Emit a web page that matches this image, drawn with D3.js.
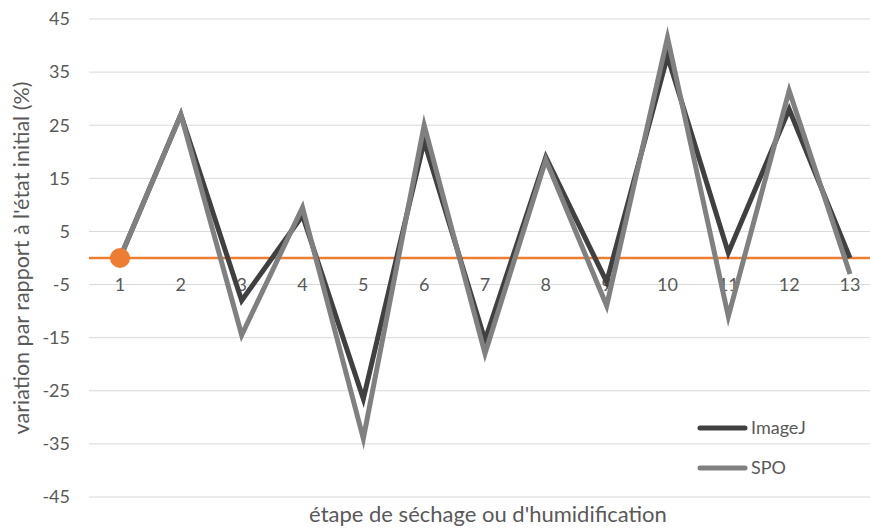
<!DOCTYPE html>
<html><head><meta charset="utf-8">
<script src="https://cdn.jsdelivr.net/npm/d3@7"></script>
<style>body{margin:0;background:#fff}svg{display:block}text{font-family:Lato,"Open Sans",sans-serif;fill:#595959}</style>
</head><body><svg id="c" width="870" height="530"></svg>
<script>
const categories = ["1","2","3","4","5","6","7","8","9","10","11","12","13"];
const imageJ = [0, 27, -8, 8, -26.5, 22, -15.5, 19, -4.5, 38, 1, 28, 0];
const spo = [0, 27, -14.5, 9.5, -34, 25, -18, 18.5, -9, 41.5, -11, 31.5, -3];
const yTicks = [45, 35, 25, 15, 5, -5, -15, -25, -35, -45];
const seriesNames = ["ImageJ", "SPO"];

const svg = d3.select("#c");
const W = 870, H = 530;
const x = d3.scaleBand().domain(categories).range([89.6, 880.4]);
const y = d3.scaleLinear().domain([-45, 45]).range([497, 19]);

// gridlines
svg.append("g").selectAll("line").data(yTicks).join("line")
  .attr("x1", 89).attr("x2", W).attr("y1", d => y(d)).attr("y2", d => y(d))
  .attr("stroke", "#d9d9d9").attr("stroke-width", 1);

// y labels
svg.append("g").selectAll("text").data(yTicks).join("text")
  .attr("x", 70).attr("y", d => y(d)).attr("dy", "0.35em")
  .attr("text-anchor", "end").attr("font-size", 18).text(d => d);

// x labels
svg.append("g").selectAll("text").data(categories).join("text")
  .attr("x", d => x(d) + x.bandwidth() / 2).attr("y", y(-5)).attr("dy", "0.35em")
  .attr("text-anchor", "middle").attr("font-size", 18).text(d => d);

// zero line (orange)
svg.append("line").attr("x1", 89).attr("x2", W).attr("y1", y(0)).attr("y2", y(0))
  .attr("stroke", "#ED7D31").attr("stroke-width", 2.5);

const line = d3.line().x((d, i) => x(categories[i]) + x.bandwidth() / 2).y(d => y(d));
const colors = ["#404040", "#808080"];
[imageJ, spo].forEach((s, k) => {
  svg.append("path").attr("d", line(s)).attr("fill", "none")
    .attr("stroke", colors[k]).attr("stroke-width", 5).attr("stroke-linejoin", "miter").attr("stroke-miterlimit", 10);
});

// orange marker
svg.append("circle").attr("cx", x(categories[0]) + x.bandwidth() / 2).attr("cy", y(0)).attr("r", 10).attr("fill", "#ED7D31");

// legend
const lg = svg.append("g");
seriesNames.forEach((n, k) => {
  const ly = k === 0 ? 428 : 468;
  lg.append("line").attr("x1", 700).attr("x2", 745).attr("y1", ly).attr("y2", ly)
    .attr("stroke", colors[k]).attr("stroke-width", 5).attr("stroke-linecap", "round");
  lg.append("text").attr("x", 751).attr("y", ly).attr("dy", "0.35em").attr("font-size", 18).text(n);
});

// axis titles
svg.append("text").attr("x", 488).attr("y", 514).attr("dy", "0.35em").attr("text-anchor", "middle")
  .attr("font-size", 22).text("étape de séchage ou d'humidification");
svg.append("text").attr("transform", "translate(21,258) rotate(-90)").attr("dy", "0.35em").attr("text-anchor", "middle")
  .attr("font-size", 21.5).text("variation par rapport à l'état initial (%)");
</script></body></html>
